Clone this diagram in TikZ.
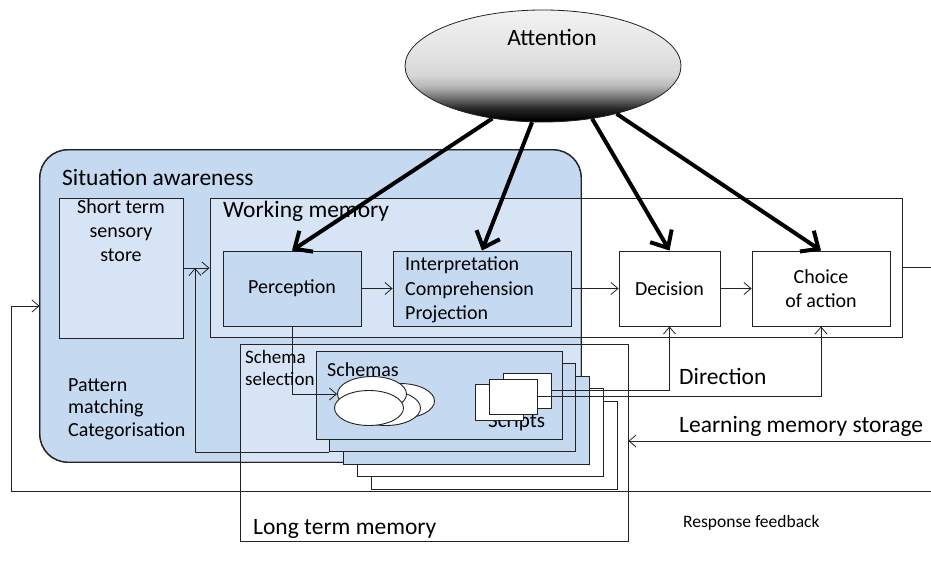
\documentclass[tikz,border=0pt]{standalone}
\usepackage{fontspec}
\setmainfont{Carlito}
\usetikzlibrary{arrows.meta,shapes.geometric,calc}
\definecolor{sablue}{RGB}{197,217,241}
\definecolor{edge}{RGB}{35,35,35}
% grey-to-black fill of the attention ellipse (path spans 25bp..75bp)
\pgfdeclareverticalshading{attnshade}{100bp}{color(0bp)=(black); color(26bp)=(black); color(31bp)=(black!85); color(36bp)=(black!55); color(41bp)=(black!28); color(46bp)=(black!16); color(56bp)=(black!11); color(75bp)=(black!5); color(100bp)=(black!5)}
\begin{document}
\begin{tikzpicture}[x=1pt,y=-1pt,
  box/.style={draw=edge, line width=0.9pt, rectangle, inner sep=0pt},
  veil/.style={box, fill=white, fill opacity=0.3},
  ell/.style={ellipse, draw=edge, line width=0.9pt, fill=white, inner sep=0pt, minimum width=69pt, minimum height=35pt},
  arr/.style={draw=edge, line width=0.8pt, -{Straight Barb[length=7pt,width=12pt]}},
  link/.style={draw=edge, line width=0.8pt},
  bold/.style={line width=4pt, -{Straight Barb[length=14pt,width=25pt]}},
  txt/.style={inner sep=0pt, font=\fontsize{20}{24}\selectfont},
  big/.style={inner sep=0pt, font=\fontsize{23.5}{28}\selectfont},
  lbl/.style={txt, anchor=base west},
  biglbl/.style={big, anchor=base west}]
\useasboundingbox (0,0) rectangle (931,562);

% situation awareness region and the stores inside it
\node[box, rounded corners=28pt, fill=sablue, minimum width=541pt, minimum height=312pt] (sa) at (310.5,306) {};
\node[veil, minimum width=124pt, minimum height=140pt] (stss) at (121,268) {};
\node[veil, minimum width=692pt, minimum height=139pt] (wm) at (556,267.5) {};
\node[veil, minimum width=388pt, minimum height=197pt] (ltm) at (434,442.5) {};
\draw[edge, line width=0.9pt, rounded corners=28pt] (sa.north west) rectangle (sa.south east);

% processing stages
\node[box, fill=sablue, minimum width=138pt, minimum height=75pt, txt] (perc) at (292,288.5) {Perception};
\node[box, fill=sablue, minimum width=178pt, minimum height=75pt] (interp) at (482,288.5) {};
\node[box, fill=white, minimum width=101pt, minimum height=75pt, txt] (dec) at (669.5,288.5) {Decision};
\node[box, fill=white, minimum width=138pt, minimum height=75pt, txt, align=center] (choice) at (821,288.5) {Choice\\of action};

% stacked schema sheets, back to front
\node[box, fill=white, minimum width=246pt, minimum height=88pt] (sch5) at (494,445) {};
\node[box, fill=white, minimum width=246pt, minimum height=88pt] (sch4) at (480.25,432.5) {};
\node[box, fill=sablue, minimum width=246pt, minimum height=88pt] (sch3) at (466.5,420) {};
\node[box, fill=sablue, minimum width=246pt, minimum height=88pt] (sch2) at (452.75,407.5) {};
\node[box, fill=sablue, minimum width=246pt, minimum height=88pt] (sch1) at (439,395) {};

% schema ellipses
\node[ell] (el4) at (400,401) {};
\node[ell] (el3) at (386,408) {};
\node[ell] (el2) at (372,394) {};
\node[ell] (el1) at (369,408) {};

% scripts
\node[txt, anchor=base west, font=\fontsize{21}{25}\selectfont] (scrtxt) at (488,427) {Scripts};
\node[box, fill=white, minimum width=48pt, minimum height=36pt] (sc1) at (499,402) {};
\node[box, fill=white, minimum width=48pt, minimum height=35pt] (sc2) at (527,390.5) {};
\node[box, fill=white, minimum width=48pt, minimum height=35pt] (sc3) at (513,396.5) {};

% thin connectors
\coordinate (fb) at (195,268);
\coordinate (outR) at (931,267.5);
\coordinate (lmsR) at (931,441);
\coordinate (rfR) at (931,491);
\coordinate (rfL) at (11,491);
\draw[arr] (stss.east) -- (stss.east -| wm.west);
\draw[arr] (sch2.south west) -| (fb);
\draw[arr] (perc.south) |- (el2.west);
\draw[arr] (perc.east) -- (interp.west);
\draw[arr] (interp.east) -- (dec.west);
\draw[arr] (dec.east) -- (choice.west);
\draw[arr] (sc2.east) -| (dec.south);
\draw[arr] (sc3.east) -| (choice.south);
\draw[link] (wm.east) -- (outR);
\draw[arr] (lmsR) -- (lmsR -| ltm.east);
\draw[arr] (rfR) -- (rfL) |- (sa.west);

% attention and its influence
\node[ellipse, draw=edge, line width=0.8pt, shading=attnshade, minimum width=276pt, minimum height=112pt, inner sep=0pt] (attn) at (543,66) {};
\node[big, anchor=base] (attntxt) at (552,45) {Attention};
\draw[bold] (attn.226) -- (perc.north);
\draw[bold] (attn.259) -- (interp.north);
\draw[bold] (attn.313) -- (dec.north);
\draw[bold] (attn.327) -- (choice.north);

% labels
\node[biglbl] (satxt) at (62,185) {Situation awareness};
\node[txt, anchor=base] (st1) at (121,213) {Short term};
\node[txt, anchor=base] (st2) at (121,237) {sensory};
\node[txt, anchor=base] (st3) at (121,261) {store};
\node[biglbl] (wmtxt) at (223,217) {Working memory};
\node[lbl] (ip1) at (405,270) {Interpretation};
\node[lbl] (ip2) at (405,295) {Comprehension};
\node[lbl] (ip3) at (405,319) {Projection};
\node[lbl, font=\fontsize{19}{23}\selectfont] (ss1) at (245,363) {Schema};
\node[lbl, font=\fontsize{19}{23}\selectfont] (ss2) at (245,385) {selection};
\node[lbl] (schtxt) at (327,376) {Schemas};
\node[lbl] (pm1) at (68,391) {Pattern};
\node[lbl] (pm2) at (68,413) {matching};
\node[lbl] (pm3) at (68,436) {Categorisation};
\node[biglbl] (dirtxt) at (679,384) {Direction};
\node[biglbl] (lmstxt) at (679,432) {Learning memory storage};
\node[biglbl] (ltmtxt) at (253,534) {Long term memory};
\node[lbl, font=\fontsize{17.5}{21}\selectfont] (rftxt) at (683,527) {Response feedback};
\end{tikzpicture}
\end{document}
